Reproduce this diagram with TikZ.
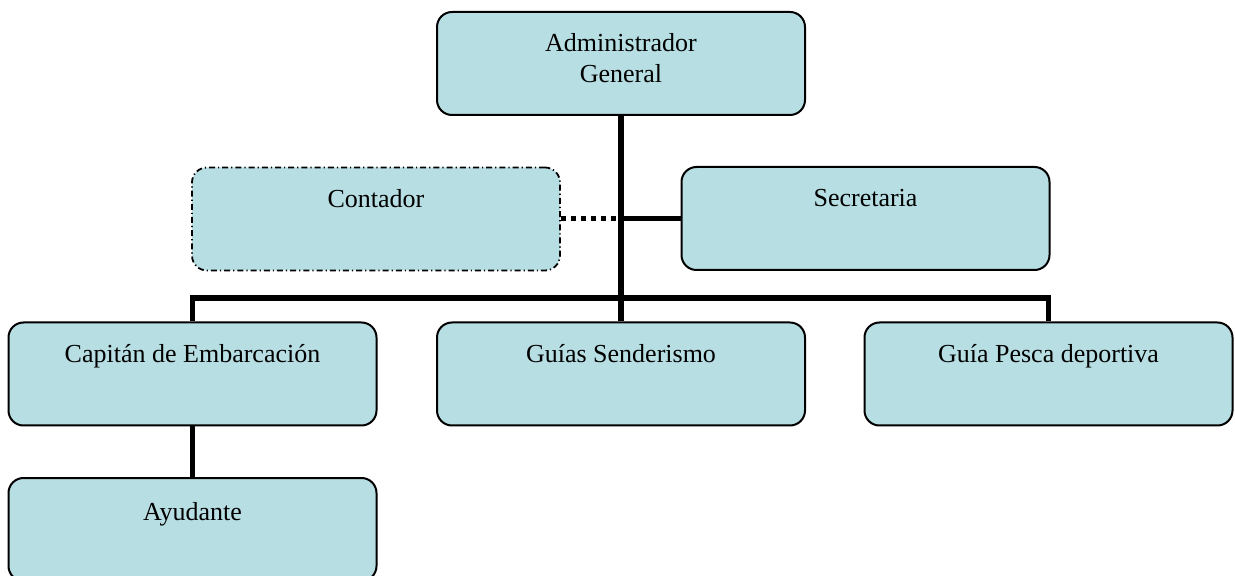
\documentclass[tikz,border=0pt]{standalone}
\usepackage{fontspec}
\setmainfont{Liberation Serif}
\usetikzlibrary{positioning}

\definecolor{boxblue}{RGB}{183,222,227}

\begin{document}
\begin{tikzpicture}[
        x=0.5pt, y=-0.5pt,
        font=\fontsize{13}{15.5}\selectfont,
        unit/.style={draw, rectangle, rounded corners=7.5pt, line width=1pt, fill=boxblue, minimum width=184pt, minimum height=51.5pt, inner sep=0pt},
        intext/.style={anchor=center, yshift=-17.5pt, text height=9pt, text depth=3pt, align=center},
        link/.style={line width=2.75pt, line join=miter},
        dotlink/.style={line width=2.5pt, dash pattern=on 2.5pt off 2.5pt}
    ]
        \useasboundingbox (0,0) rectangle (1235,576);

        % Boxes
        \node[unit, label={[anchor=center, yshift=-23.5pt, align=center]north:Administrador\\General}] (admin) at (621,63.5) {};
        \node[unit, line width=0.9pt, dash pattern=on 3pt off 1.5pt on 0.6pt off 1.5pt,
              label={[intext]north:Contador}] (cont) at (376,219) {};
        \node[unit, label={[intext]north:Secretaria}] (secr) at (865.5,218.5) {};
        \node[unit, label={[intext]north:Capitán de Embarcación}] (capt) at (192.5,374) {};
        \node[unit, label={[intext]north:Guías Senderismo}] (guias) at (621,374) {};
        \node[unit, label={[intext]north:Guía Pesca deportiva}] (pesca) at (1048.5,374) {};
        \node[unit, label={[intext, yshift=-1pt]north:Ayudante}] (ayud) at (192.5,529.5) {};

        \coordinate (bus) at (621,298);

        % Connectors
        \draw[link] (admin.south) -- (bus);
        \draw[link] (capt.north) |- (bus) -| (pesca.north);
        \draw[link] (bus) -- (guias.north);
        \draw[link] (secr.west) -- (secr.west -| admin.south);
        \draw[dotlink] (cont.east) -- (cont.east -| admin.south);
        \draw[link] (capt.south) -- (ayud.north);
    \end{tikzpicture}
\end{document}
